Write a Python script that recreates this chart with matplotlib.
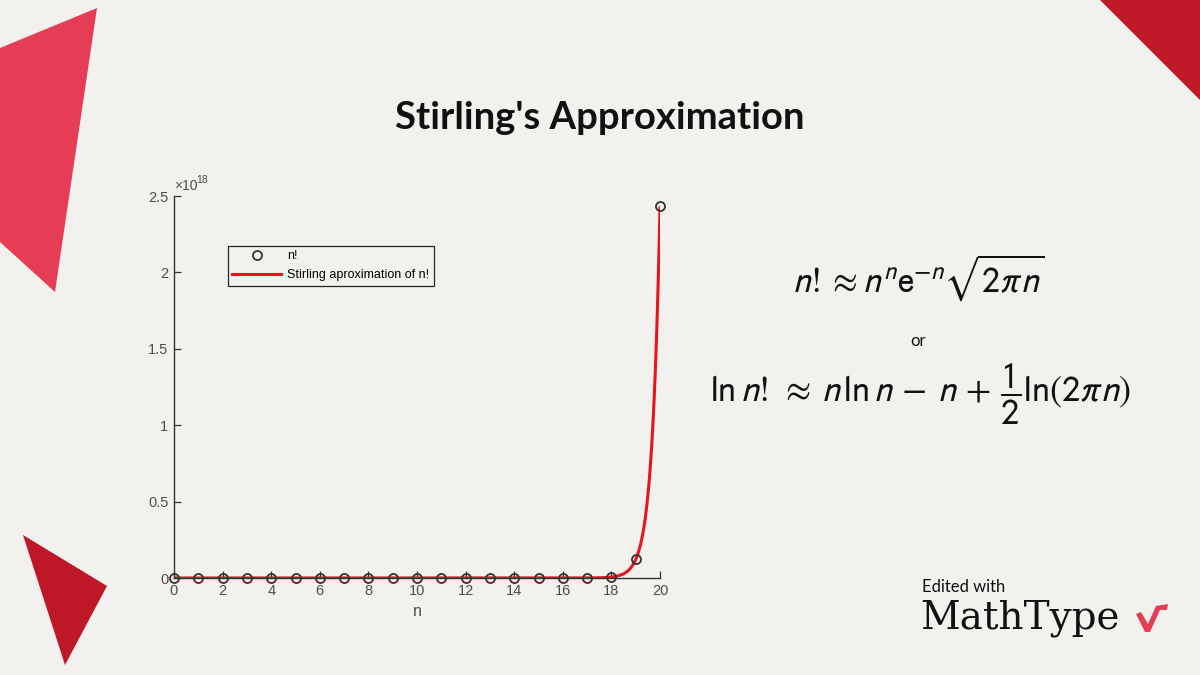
import numpy as np
import matplotlib.pyplot as plt
from matplotlib.patches import Polygon

# data: n and n!
n_vals = list(range(21))
factorials = [1, 1, 2, 6, 24, 120, 720, 5040, 40320, 362880, 3628800,
              39916800, 479001600, 6227020800, 87178291200, 1307674368000,
              20922789888000, 355687428096000, 6402373705728000,
              121645100408832000, 2432902008176640000]
y_ticks = [0, 0.5e18, 1e18, 1.5e18, 2e18, 2.5e18]
y_tick_labels = ['0', '0.5', '1', '1.5', '2', '2.5']
x_ticks = list(range(0, 21, 2))

# Stirling curve n^n e^-n sqrt(2 pi n), sampled finely
n_fine = np.linspace(0, 20, 801)
with np.errstate(divide='ignore', invalid='ignore'):
    stirling = np.where(n_fine > 0,
                        n_fine ** n_fine * np.exp(-n_fine) * np.sqrt(2 * np.pi * n_fine),
                        0.0)

bg = '#f2f1ee'
plt.rcParams['mathtext.fontset'] = 'stixsans'

fig = plt.figure(figsize=(12, 6.75), dpi=100, facecolor=bg)

# decorative shapes (pixel coords -> figure fraction)
def px(pts):
    return [(x / 1200, 1 - y / 675) for x, y in pts]

fig.patches.append(Polygon(px([(0, 48), (97, 8), (55, 292), (0, 242)]),
                           closed=True, transform=fig.transFigure,
                           facecolor='#e43d55', edgecolor='none'))
fig.patches.append(Polygon(px([(1100, 0), (1200, 0), (1200, 100)]),
                           closed=True, transform=fig.transFigure,
                           facecolor='#c01826', edgecolor='none'))
fig.patches.append(Polygon(px([(23, 535), (107, 586), (65, 665)]),
                           closed=True, transform=fig.transFigure,
                           facecolor='#be1828', edgecolor='none'))

ax = fig.add_axes([174 / 1200, 97 / 675, 486 / 1200, 382 / 675])
ax.set_facecolor(bg)

ax.plot(n_fine, stirling, color='#e8141c', lw=2.2,
        label='Stirling aproximation of n!', zorder=2)
ax.plot(n_vals, factorials, linestyle='none', marker='o', markersize=6.5,
        markerfacecolor='none', markeredgecolor='#333333', markeredgewidth=1.3,
        label='n!', clip_on=False, zorder=3)

ax.set_xlim(0, 20)
ax.set_ylim(0, 2.5e18)
ax.set_xticks(x_ticks)
ax.set_yticks(y_ticks)
ax.set_yticklabels(y_tick_labels)
for s in ['top', 'right']:
    ax.spines[s].set_visible(False)
for s in ['left', 'bottom']:
    ax.spines[s].set_color('#333333')
    ax.spines[s].set_linewidth(1.0)
ax.tick_params(direction='in', length=5, width=0.9, color='#333333',
               labelcolor='#4d4d4d', labelsize=10.5, pad=4)
for lab in ax.get_xticklabels() + ax.get_yticklabels():
    lab.set_family('Liberation Sans')
ax.set_xlabel('n', fontsize=11.5, color='#4d4d4d', family='Liberation Sans',
              labelpad=5)
ax.text(0.0, 1.008, '×10', transform=ax.transAxes, family='Liberation Sans',
        fontsize=10, color='#4d4d4d', ha='left', va='bottom')
ax.text(0.046, 1.03, '18', transform=ax.transAxes, family='Liberation Sans',
        fontsize=7.5, color='#4d4d4d', ha='left', va='bottom')

h, l = ax.get_legend_handles_labels()
leg = ax.legend(h[::-1], l[::-1], loc='upper left',
                bbox_to_anchor=(0.111, 0.869), handlelength=3.9,
                frameon=True, fancybox=False, borderaxespad=0,
                borderpad=0.35, labelspacing=0.55, handletextpad=0.5,
                prop={'family': 'Liberation Sans', 'size': 9})
leg.get_frame().set_edgecolor('#262626')
leg.get_frame().set_facecolor(bg)
leg.get_frame().set_linewidth(0.9)
leg.get_frame().set_alpha(1)

# title and formulas
fig.text(0.5, 1 - 118 / 675, "Stirling's Approximation", ha='center',
         va='center', fontsize=27.5, fontweight='bold', family='Lato',
         color='#111111')
fig.text(918 / 1200, 1 - 278 / 675,
         r'$n!\approx n^{n}\mathrm{e}^{-n}\sqrt{2\pi n}$',
         ha='center', va='center', fontsize=26, color='#111111')
fig.text(918 / 1200, 1 - 341 / 675, 'or', ha='center', va='center',
         fontsize=12, family='Lato', color='#111111')
fig.text(920 / 1200, 1 - 394 / 675,
         r'$\mathrm{ln}\,n!\,\approx\,n\,\mathrm{ln}\,n\,-\,n\,+\,\dfrac{1}{2}\mathrm{ln}(2\pi n)$',
         ha='center', va='center', fontsize=26.5, color='#111111')

# MathType badge
fig.text(922 / 1200, 1 - 587 / 675, 'Edited with', ha='left', va='center',
         fontsize=12, family='Lato', color='#111111')
fig.text(920 / 1200, 1 - 618 / 675, 'MathType', ha='left', va='center',
         fontsize=28, family='DejaVu Serif', color='#111111')
fig.patches.append(Polygon(px([(1136, 614), (1141, 612), (1148, 624),
                               (1156, 606), (1168, 604), (1167, 610),
                               (1160, 610), (1150, 632), (1145, 632)]),
                           closed=True, transform=fig.transFigure,
                           facecolor='#e43d55', edgecolor='none'))

fig.savefig('out.png', dpi=100, facecolor=bg)
